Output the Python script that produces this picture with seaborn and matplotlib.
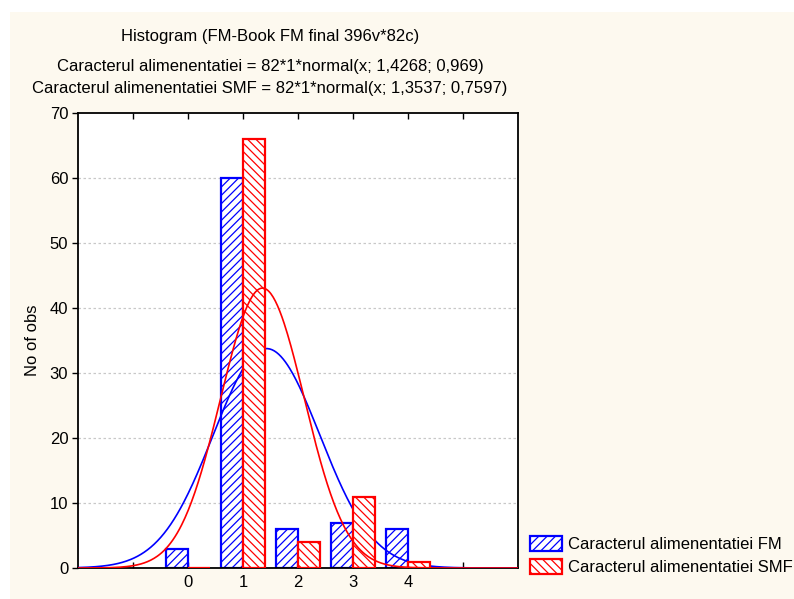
import numpy as np
import pandas as pd
import matplotlib
matplotlib.use("Agg")
import matplotlib.pyplot as plt
from matplotlib.patches import Patch, Rectangle
import seaborn as sns

# ---- data ----
categories = [0, 1, 2, 3, 4]
fm_counts = [3, 60, 6, 7, 6]
smf_counts = [0, 66, 4, 11, 1]
series_names = ["Caracterul alimenentatiei FM", "Caracterul alimenentatiei SMF"]
fm_mean, fm_sd = 1.4268, 0.969
smf_mean, smf_sd = 1.3537, 0.7597
n_obs = 82
title_lines = ["Histogram (FM-Book FM final 396v*82c)",
               "Caracterul alimenentatiei = 82*1*normal(x; 1,4268; 0,969)",
               "Caracterul alimenentatiei SMF = 82*1*normal(x; 1,3537; 0,7597)"]
y_ticks = [0, 10, 20, 30, 40, 50, 60, 70]

sns.set_style("white")
plt.rcParams['font.family'] = ['Liberation Sans', 'DejaVu Sans']
plt.rcParams['hatch.linewidth'] = 0.9
plt.rcParams['text.color'] = 'black'
plt.rcParams['axes.labelcolor'] = 'black'
plt.rcParams['xtick.color'] = 'black'
plt.rcParams['ytick.color'] = 'black'

BLUE = "#0000FF"
RED = "#FF0000"
BG = "#FDF9EF"
FS = 12

fig = plt.figure(figsize=(7.94, 5.99), dpi=100, facecolor="white")
# cream panel (white strip at top and left)
fig.patches.append(Rectangle((10/794, 0), 1 - 10/794, 1 - 12/599,
                             transform=fig.transFigure, facecolor=BG,
                             edgecolor="none", zorder=-10))

ax = fig.add_axes([78/794, 1 - 568/599, (518 - 78)/794, (568 - 113)/599])
ax.set_facecolor("white")

df = pd.DataFrame({
    "x": categories * 2,
    "count": fm_counts + smf_counts,
    "series": [series_names[0]] * len(categories) + [series_names[1]] * len(categories),
})

sns.barplot(data=df, x="x", y="count", hue="series", native_scale=True,
            dodge=True, width=0.8, palette=["white", "white"], ax=ax,
            legend=False, errorbar=None, saturation=1)

n = len(categories)
for i, p in enumerate(ax.patches):
    col = BLUE if i < n else RED
    p.set_edgecolor(col)
    p.set_facecolor("white")
    p.set_linewidth(1.6)
    p.set_hatch("////" if i < n else "\\\\\\\\")
    p.set_zorder(2 if i < n else 4)

xs = np.linspace(-2, 6, 400)
def normal_curve(m, s):
    return n_obs * 1 * np.exp(-0.5 * ((xs - m) / s) ** 2) / (s * np.sqrt(2 * np.pi))

sns.lineplot(x=xs, y=normal_curve(fm_mean, fm_sd), color=BLUE, lw=1.2, ax=ax, zorder=3)
sns.lineplot(x=xs, y=normal_curve(smf_mean, smf_sd), color=RED, lw=1.2, ax=ax, zorder=5)

ax.set_xlim(-2, 6)
ax.set_ylim(0, 70)
ax.set_yticks(y_ticks)
ax.set_yticklabels([str(v) for v in y_ticks], fontsize=FS)
ax.set_xticks([-1, 0, 1, 2, 3, 4, 5])
ax.set_xticklabels(["", "0", "1", "2", "3", "4", ""], fontsize=FS)
ax.tick_params(axis="x", direction="in", length=4, top=True, bottom=True, pad=5, width=1)
ax.tick_params(axis="y", direction="out", length=4, left=True, right=False, width=1, pad=3)
ax.set_xlabel("")
ax.set_ylabel("No of obs", fontsize=FS)
ax.yaxis.set_label_coords(-38/440, 0.5)
for yv in y_ticks[1:-1]:
    ax.axhline(yv, color="#C8C8C8", lw=0.9, ls=(0, (2, 2)), zorder=0.5)
for s in ax.spines.values():
    s.set_color("black")
    s.set_linewidth(1.3)

fig.text(270/794, 1 - 36/599, title_lines[0], ha="center", va="center", fontsize=FS)
fig.text(270/794, 1 - 67/599, title_lines[1], ha="center", va="center", fontsize=FS)
fig.text(270/794, 1 - 89/599, title_lines[2], ha="center", va="center", fontsize=FS)

handles = [Patch(facecolor="white", edgecolor=BLUE, hatch="////", lw=1.6),
           Patch(facecolor="white", edgecolor=RED, hatch="\\\\\\\\", lw=1.6)]
fig.legend(handles, series_names, loc="lower left",
           bbox_to_anchor=(530/794, 1 - 575/599), frameon=False, fontsize=FS,
           handlelength=1.9, handleheight=1.0, handletextpad=0.4, labelspacing=0.4,
           borderaxespad=0, borderpad=0)

fig.savefig("out.png", dpi=100, facecolor="white")
